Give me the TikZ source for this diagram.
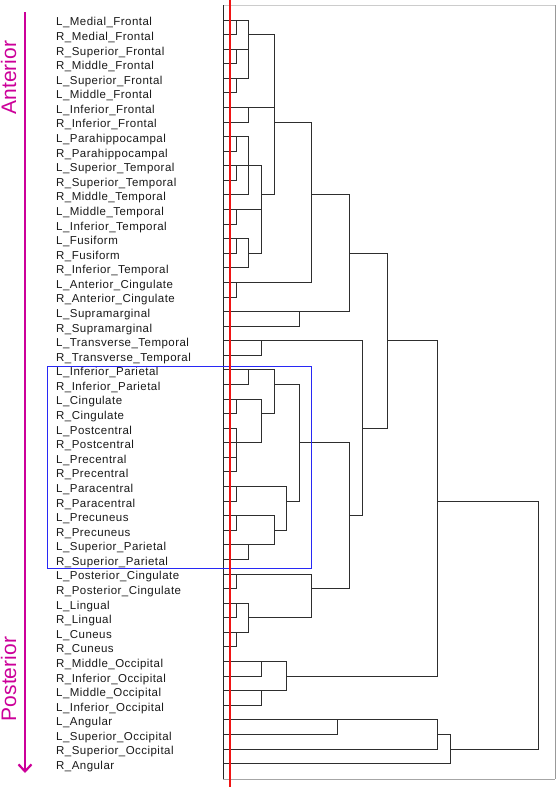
\documentclass[tikz,border=0pt]{standalone}
\usepackage{fontspec}
\usepackage{color}
\usetikzlibrary{arrows.meta}
\setmainfont{Liberation Sans}
\newfontfamily\rowfont[LetterSpace=4]{Liberation Sans}
\definecolor{axismag}{RGB}{204,0,153}
\definecolor{cutred}{RGB}{240,20,20}
\definecolor{boxblue}{RGB}{40,40,245}
\newcommand{\mO}{223}
\newcommand{\mA}{236.7}
\newcommand{\mB}{248.5}
\newcommand{\mC}{261.7}
\newcommand{\mD}{274}
\newcommand{\mE}{286.7}
\newcommand{\mF}{299.3}
\newcommand{\mG}{311.7}
\newcommand{\mH}{337.3}
\newcommand{\mI}{349.3}
\newcommand{\mJ}{362.3}
\newcommand{\mK}{387.3}
\newcommand{\mL}{437.7}
\newcommand{\mM}{450}
\newcommand{\mN}{538.3}
\newcommand{\link}[5]{\draw[tree] (#2,#3) -| (#1,#5) -- (#4,#5);}

\begin{document}
\begin{tikzpicture}[x=1pt, y=-1pt,
    leaf/.style={anchor=base west, inner sep=0pt, yshift=-5.9pt,
      font=\rowfont\fontsize{11.5}{13}\selectfont, text=black!90},
    tree/.style={draw=black!82, line width=1pt},
    side/.style={rotate=90, inner sep=0pt, text=axismag,
      font=\fontsize{21}{24}\selectfont}]
        \useasboundingbox (0,0) rectangle (556,787);

        \node[side] (ant) at (8.5,77.5) {Anterior};
        \node[side] (post) at (8.5,679) {Posterior};
        \coordinate (atop) at (25,12);
        \coordinate (abot) at (25,773);
        \draw[axismag, line width=2.2pt, -{Straight Barb[length=7pt,width=13pt]}] (atop) -- (abot);

        \begin{scope}[y=-14.58pt, yshift=-5.42pt]
        \node[leaf] (LMeF) at (56,1) {L\_Medial\_Frontal};
        \node[leaf] (RMeF) at (56,2) {R\_Medial\_Frontal};
        \node[leaf] (RSF) at (56,3) {R\_Superior\_Frontal};
        \node[leaf] (RMiF) at (56,4) {R\_Middle\_Frontal};
        \node[leaf] (LSF) at (56,5) {L\_Superior\_Frontal};
        \node[leaf] (LMiF) at (56,6) {L\_Middle\_Frontal};
        \node[leaf] (LIF) at (56,7) {L\_Inferior\_Frontal};
        \node[leaf] (RIF) at (56,8) {R\_Inferior\_Frontal};
        \node[leaf] (LPh) at (56,9) {L\_Parahippocampal};
        \node[leaf] (RPh) at (56,10) {R\_Parahippocampal};
        \node[leaf] (LST) at (56,11) {L\_Superior\_Temporal};
        \node[leaf] (RST) at (56,12) {R\_Superior\_Temporal};
        \node[leaf] (RMT) at (56,13) {R\_Middle\_Temporal};
        \node[leaf] (LMT) at (56,14) {L\_Middle\_Temporal};
        \node[leaf] (LIT) at (56,15) {L\_Inferior\_Temporal};
        \node[leaf] (LFu) at (56,16) {L\_Fusiform};
        \node[leaf] (RFu) at (56,17) {R\_Fusiform};
        \node[leaf] (RIT) at (56,18) {R\_Inferior\_Temporal};
        \node[leaf] (LAC) at (56,19) {L\_Anterior\_Cingulate};
        \node[leaf] (RAC) at (56,20) {R\_Anterior\_Cingulate};
        \node[leaf] (LSm) at (56,21) {L\_Supramarginal};
        \node[leaf] (RSm) at (56,22) {R\_Supramarginal};
        \node[leaf] (LTT) at (56,23) {L\_Transverse\_Temporal};
        \node[leaf] (RTT) at (56,24) {R\_Transverse\_Temporal};
        \node[leaf] (LIP) at (56,25) {L\_Inferior\_Parietal};
        \node[leaf] (RIP) at (56,26) {R\_Inferior\_Parietal};
        \node[leaf] (LCi) at (56,27) {L\_Cingulate};
        \node[leaf] (RCi) at (56,28) {R\_Cingulate};
        \node[leaf] (LPoC) at (56,29) {L\_Postcentral};
        \node[leaf] (RPoC) at (56,30) {R\_Postcentral};
        \node[leaf] (LPrC) at (56,31) {L\_Precentral};
        \node[leaf] (RPrC) at (56,32) {R\_Precentral};
        \node[leaf] (LPaC) at (56,33) {L\_Paracentral};
        \node[leaf] (RPaC) at (56,34) {R\_Paracentral};
        \node[leaf] (LPcu) at (56,35) {L\_Precuneus};
        \node[leaf] (RPcu) at (56,36) {R\_Precuneus};
        \node[leaf] (LSP) at (56,37) {L\_Superior\_Parietal};
        \node[leaf] (RSP) at (56,38) {R\_Superior\_Parietal};
        \node[leaf] (LPC) at (56,39) {L\_Posterior\_Cingulate};
        \node[leaf] (RPC) at (56,40) {R\_Posterior\_Cingulate};
        \node[leaf] (LLi) at (56,41) {L\_Lingual};
        \node[leaf] (RLi) at (56,42) {R\_Lingual};
        \node[leaf] (LCu) at (56,43) {L\_Cuneus};
        \node[leaf] (RCu) at (56,44) {R\_Cuneus};
        \node[leaf] (RMO) at (56,45) {R\_Middle\_Occipital};
        \node[leaf] (RIO) at (56,46) {R\_Inferior\_Occipital};
        \node[leaf] (LMO) at (56,47) {L\_Middle\_Occipital};
        \node[leaf] (LIO) at (56,48) {L\_Inferior\_Occipital};
        \node[leaf] (LAn) at (56,49) {L\_Angular};
        \node[leaf] (LSO) at (56,50) {L\_Superior\_Occipital};
        \node[leaf] (RSO) at (56,51) {R\_Superior\_Occipital};
        \node[leaf] (RAn) at (56,52) {R\_Angular};

        % frontal and temporal
        \link{\mA}{\mO}{1}{\mO}{2}
        \link{\mA}{\mO}{3}{\mO}{4}
        \link{\mA}{\mO}{5}{\mO}{6}
        \link{\mB}{\mA}{3}{\mA}{5}
        \link{\mB}{\mA}{1}{\mB}{4}
        \link{\mB}{\mO}{7}{\mO}{8}
        \link{\mA}{\mO}{9}{\mO}{10}
        \link{\mA}{\mO}{11}{\mO}{12}
        \link{\mB}{\mA}{9}{\mA}{11}
        \link{\mB}{\mB}{10}{\mO}{13}
        \link{\mA}{\mO}{14}{\mO}{15}
        \link{\mA}{\mO}{16}{\mO}{17}
        \link{\mB}{\mA}{16}{\mO}{18}
        \link{\mC}{\mA}{14}{\mB}{17}
        \link{\mC}{\mB}{11}{\mC}{15}
        \link{\mD}{\mB}{2}{\mB}{7}
        \link{\mD}{\mD}{4}{\mC}{13}
        \link{\mA}{\mO}{19}{\mO}{20}
        \link{\mG}{\mD}{8}{\mA}{19}
        \link{\mF}{\mO}{21}{\mO}{22}
        \link{\mI}{\mG}{13}{\mF}{21}
        \link{\mC}{\mO}{23}{\mO}{24}
        % parietal and central
        \link{\mB}{\mO}{25}{\mO}{26}
        \link{\mA}{\mO}{27}{\mO}{28}
        \link{\mA}{\mO}{29}{\mO}{30}
        \link{\mA}{\mO}{31}{\mO}{32}
        \link{\mA}{\mA}{29}{\mA}{31}
        \link{\mC}{\mA}{27}{\mA}{30}
        \link{\mD}{\mB}{25}{\mC}{28}
        \link{\mA}{\mO}{33}{\mO}{34}
        \link{\mA}{\mO}{35}{\mO}{36}
        \link{\mB}{\mO}{37}{\mO}{38}
        \link{\mD}{\mA}{35}{\mB}{37}
        \link{\mE}{\mA}{33}{\mD}{36}
        \link{\mF}{\mD}{26}{\mE}{34}
        \link{\mA}{\mO}{39}{\mO}{40}
        \link{\mA}{\mO}{41}{\mO}{42}
        \link{\mA}{\mO}{43}{\mO}{44}
        \link{\mB}{\mA}{41}{\mA}{43}
        \link{\mG}{\mA}{39}{\mB}{42}
        \link{\mI}{\mF}{30}{\mG}{40}
        \link{\mJ}{\mC}{23}{\mI}{35}
        \link{\mK}{\mI}{17}{\mJ}{29}
        % occipital and angular
        \link{\mC}{\mO}{45}{\mO}{46}
        \link{\mC}{\mO}{47}{\mO}{48}
        \link{\mE}{\mC}{45}{\mC}{47}
        \link{\mL}{\mK}{23}{\mE}{46}
        \link{\mH}{\mO}{49}{\mO}{50}
        \link{\mL}{\mH}{49}{\mO}{51}
        \link{\mM}{\mL}{50}{\mO}{52}
        \link{\mN}{\mL}{34}{\mM}{51}
        \end{scope}

        \draw[gray!40, line width=0.9pt] (\mO,5) -- (555,5);
        \draw[gray!80, line width=1pt] (555,5) -- (555,779);
        \draw[gray!70, line width=0.9pt] (\mO,779) -- (555,779);
        \draw[black!85, line width=1pt] (\mO,5) -- (\mO,779);

        \draw[boxblue, line width=0.9pt] (47,366) rectangle (311.5,568.5);
        \draw[cutred, line width=2pt] (229.5,0) -- (229.5,787);
      \end{tikzpicture}
\end{document}
